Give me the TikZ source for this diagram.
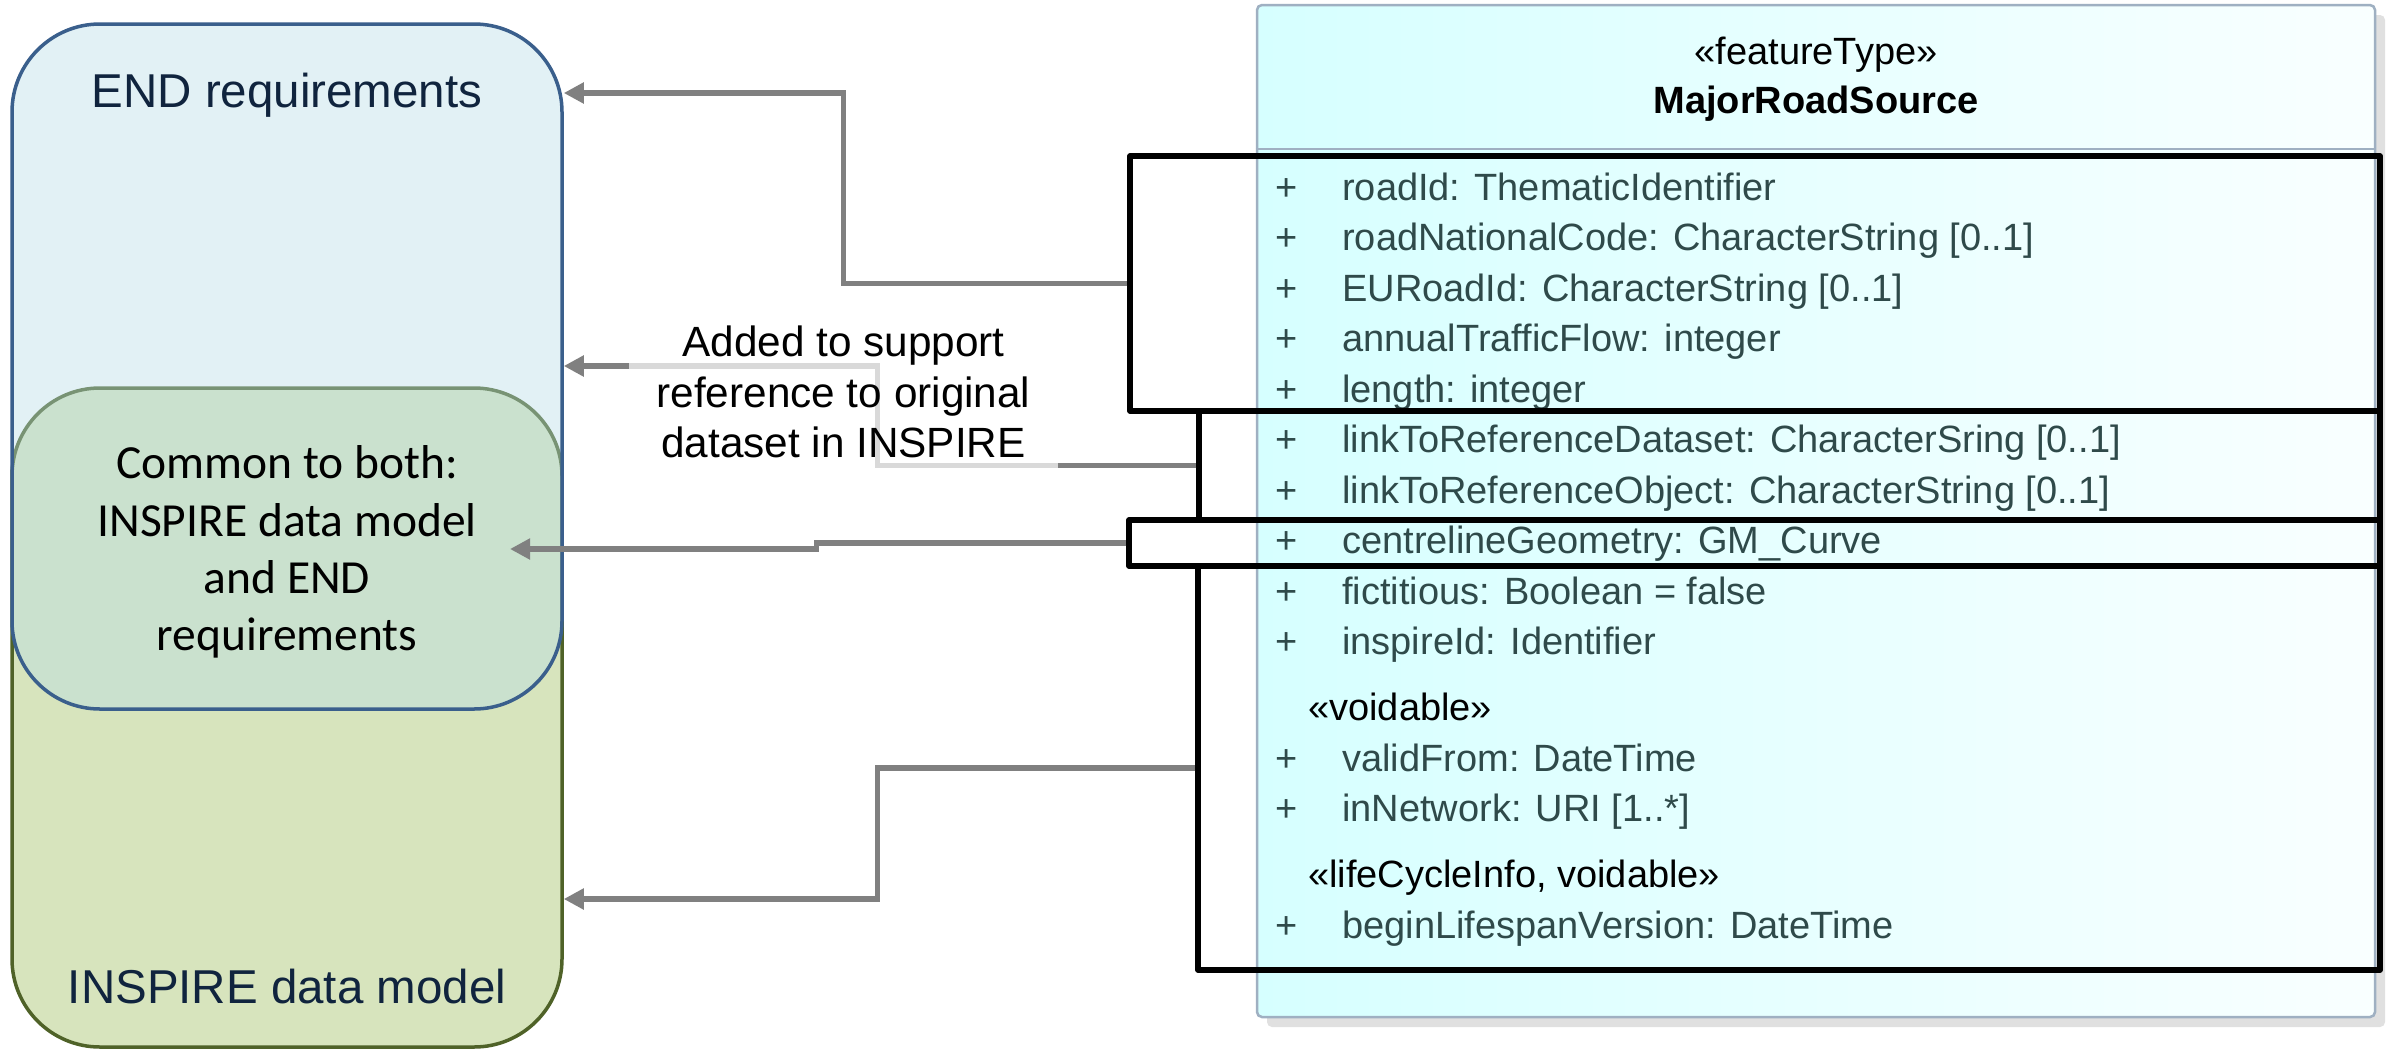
\documentclass[tikz,border=0pt]{standalone}
\usepackage{fontspec}
\setmainfont{Liberation Sans}
\newfontfamily\calibrifont{Carlito}
\usetikzlibrary{arrows.meta,shadows}
\definecolor{endfill}{HTML}{B7DEE8}
\definecolor{endline}{HTML}{3A5F8C}
\definecolor{inspfill}{HTML}{D7E4BD}
\definecolor{inspline}{HTML}{4F6228}
\definecolor{navytext}{HTML}{10243E}
\definecolor{connector}{HTML}{808080}
\definecolor{umlleft}{HTML}{D6FFFF}
\definecolor{umlright}{HTML}{F9FFFF}
\definecolor{umlborder}{HTML}{9FB0C2}
\definecolor{attrtext}{HTML}{2F4A4A}
\definecolor{shadowgray}{HTML}{E0E0E0}

\begin{document}
\begin{tikzpicture}[x=1pt,y=-1pt,
  region/.style={rounded corners=88pt, line width=3.5pt, inner sep=0pt,
    minimum width=550pt},
  regionlabel/.style={font=\fontsize{47.5}{57}\selectfont, text=navytext,
    anchor=base, inner sep=0pt},
  conn/.style={draw=connector, line width=5.5pt,
    -{Triangle[length=20pt,width=20pt]}},
  hlbox/.style={draw=black, line width=5.5pt, line join=round, inner sep=0pt},
  umlbox/.style={draw=umlborder, line width=2.5pt, rounded corners=5pt,
    left color=umlleft, right color=umlright, inner sep=0pt,
    drop shadow={shadow xshift=10pt, shadow yshift=-10pt, fill=shadowgray,
      opacity=1}},
  umlfont/.style={font=\fontsize{38}{45}\selectfont},
  umlbold/.style={font=\fontsize{38}{45}\selectfont\bfseries},
  attr/.style={umlfont, text=attrtext, anchor=base west, inner sep=0pt},
  plussign/.style={umlfont, text=attrtext, anchor=base, inner sep=0pt},
  stereo/.style={umlfont, text=black, anchor=base west, inner sep=0pt},
]
\useasboundingbox (0,0) rectangle (2395,1050);
\fill[white] (0,0) rectangle (2395,1050);

% Left: the two overlapping requirement regions
\node[region, fill=inspfill, draw=inspline, minimum height=659pt]
  (inspire) at (287,717.5) {};
\node[region, draw=endline, fill=endfill, fill opacity=0.4,
  minimum height=685pt] (endreq) at (287,366.5) {};
\node[regionlabel] (endlabel) at (287,107) {END requirements};
\node[regionlabel] (inspirelabel) at (287,1003) {INSPIRE data model};
\node[font=\calibrifont\fontsize{47.5}{57.3}\selectfont, align=center,
  inner sep=0pt] (common) at (287,552)
  {Common to both:\\INSPIRE data model\\and END\\requirements};
\coordinate (commontip) at (510,549);

% Right: UML class
\node[umlbox, minimum width=1118pt, minimum height=1012pt] (uml) at (1816,511) {};
\draw[umlborder, line width=2pt] (uml.west |- 0,149) -- (uml.east |- 0,149);
\node[umlfont, anchor=base, inner sep=0pt] (stype) at (1816,64) {«featureType»};
\node[umlbold, anchor=base, inner sep=0pt] (cname) at (1816,113)
  {MajorRoadSource};

\foreach \txt [count=\i] in {
  {roadId: ThematicIdentifier},
  {roadNationalCode: CharacterString [0..1]},
  {EURoadId: CharacterString [0..1]},
  {annualTrafficFlow: integer},
  {length: integer},
  {linkToReferenceDataset: CharacterSring [0..1]},
  {linkToReferenceObject: CharacterString [0..1]},
  {centrelineGeometry: GM\_Curve},
  {fictitious: Boolean = false},
  {inspireId: Identifier}} {
  \node[plussign] (plus\i) at (1287,{200+50.5*(\i-1)}) {+};
  \node[attr] (attr\i) at (1342,{200+50.5*(\i-1)}) {\txt};
}
\node[stereo] (voidst) at (1308,720.5) {«voidable»};
\node[plussign] (plus11) at (1287,771) {+};
\node[attr] (attr11) at (1342,771) {validFrom: DateTime};
\node[plussign] (plus12) at (1287,821.5) {+};
\node[attr] (attr12) at (1342,821.5) {inNetwork: URI [1..*]};
\node[stereo] (lifest) at (1308,887.5) {«lifeCycleInfo, voidable»};
\node[plussign] (plus13) at (1287,938) {+};
\node[attr] (attr13) at (1342,938) {beginLifespanVersion: DateTime};

% Highlight frames around attribute groups
\node[hlbox, minimum width=1250pt, minimum height=255pt] (grpend) at (1755,283.5) {};
\node[hlbox, minimum width=1181pt, minimum height=109pt] (grplink) at (1789.5,465.5) {};
\node[hlbox, minimum width=1251pt, minimum height=46pt] (grpgeom) at (1754.5,543) {};
\node[hlbox, minimum width=1182pt, minimum height=404pt] (grpinsp) at (1789,768) {};

% Connectors
\draw[conn] (grpend.west) -- ++(-284,0) |- (endreq.east |- 0,93);
\draw[conn] (grplink.west) -- ++(-319,0) |- (endreq.east |- 0,366);
\draw[conn] (grpgeom.west) -- ++(-310,0) -- ++(0,6) -- (commontip);
\draw[conn] (grpinsp.west) -- ++(-318,0) |- (inspire.east |- 0,899);

% Note lying over its connector
\node[fill=white, fill opacity=0.7, text opacity=1, align=center, inner sep=0pt,
  minimum width=429pt, minimum height=170pt,
  font=\fontsize{42.3}{50.5}\selectfont] (note) at (843.5,392)
  {Added to support\\reference to original\\dataset in INSPIRE};
\end{tikzpicture}
\end{document}
